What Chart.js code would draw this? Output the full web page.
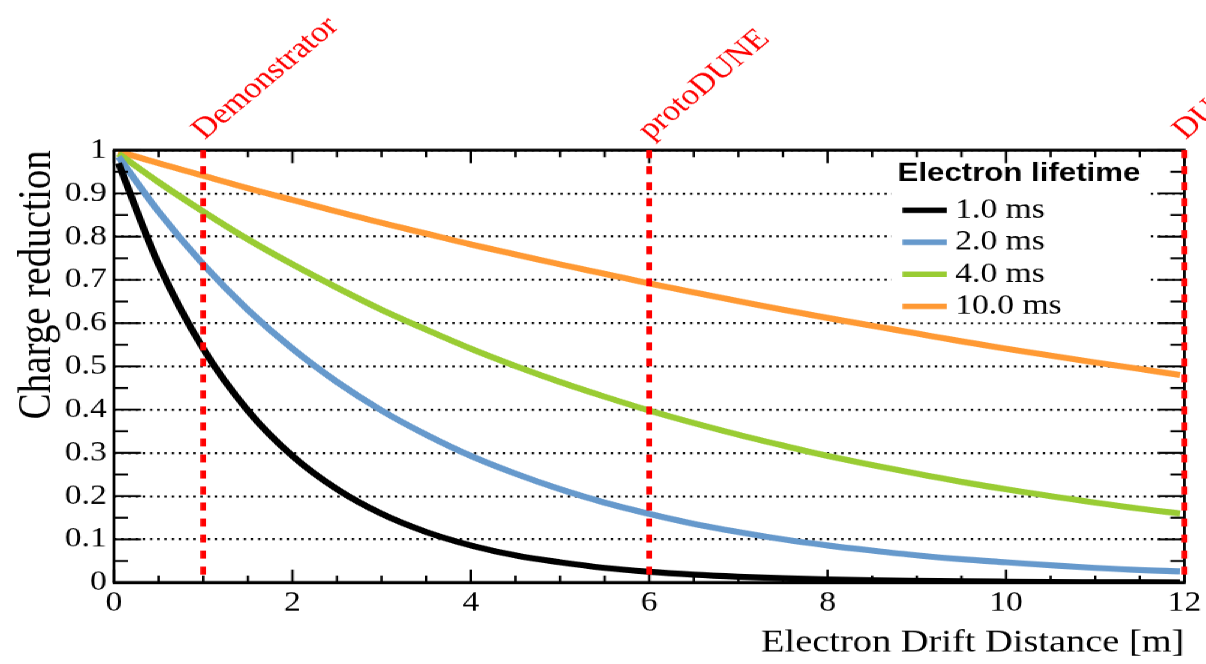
<!DOCTYPE html>
<html>
<head>
<meta charset="utf-8">
<script src="https://cdn.jsdelivr.net/npm/chart.js@4/dist/chart.umd.min.js"></script>
<style>
  html, body { margin: 0; padding: 0; background: #fff; overflow: hidden; }
  /* the figure is laid out 1005px wide and widened 1.2x horizontally */
  #wrap { position: absolute; left: 0; top: 0; width: 1005px; height: 664px;
          transform: scaleX(1.2); transform-origin: 0 0; background: #fff; }
</style>
</head>
<body>
<div id="wrap"><canvas id="c"></canvas></div>
<script>
// Electron drift distance [m] at which the charge fraction is sampled
const driftDistance = [0.05, 0.5, 1, 1.5, 2, 2.5, 3, 3.5, 4, 4.5, 5, 5.5, 6,
                       6.5, 7, 7.5, 8, 8.5, 9, 9.5, 10, 10.5, 11, 11.5, 11.95];

// Fraction of charge surviving the drift, one list per electron lifetime
const lifetime1ms  = [0.970, 0.736, 0.541, 0.398, 0.293, 0.216, 0.159, 0.117, 0.086, 0.063,
                      0.047, 0.034, 0.025, 0.0185, 0.0137, 0.0100, 0.0074, 0.0054, 0.0040,
                      0.0029, 0.0022, 0.0016, 0.0012, 0.0009, 0.0007];
const lifetime2ms  = [0.985, 0.858, 0.736, 0.631, 0.541, 0.464, 0.398, 0.342, 0.293, 0.252,
                      0.216, 0.185, 0.159, 0.136, 0.117, 0.100, 0.086, 0.074, 0.063, 0.054,
                      0.047, 0.040, 0.034, 0.029, 0.026];
const lifetime4ms  = [0.992, 0.926, 0.858, 0.794, 0.736, 0.682, 0.631, 0.585, 0.541, 0.501,
                      0.464, 0.430, 0.398, 0.369, 0.342, 0.317, 0.293, 0.272, 0.252, 0.233,
                      0.216, 0.200, 0.185, 0.171, 0.160];
const lifetime10ms = [0.997, 0.970, 0.941, 0.912, 0.885, 0.858, 0.832, 0.807, 0.782, 0.759,
                      0.736, 0.714, 0.692, 0.671, 0.651, 0.631, 0.612, 0.594, 0.576, 0.558,
                      0.541, 0.525, 0.509, 0.494, 0.480];

const seriesLabels = ['1.0 ms', '2.0 ms', '4.0 ms', '10.0 ms'];
const seriesColors = ['#000000', '#6699cc', '#99cc33', '#ff9933'];
const seriesValues = [lifetime1ms, lifetime2ms, lifetime4ms, lifetime10ms];

// Detector maximum drift lengths [m]
const detectorNames = ['Demonstrator', 'protoDUNE', 'DUNE'];
const detectorDrift = [1, 6, 12];

const xTickLabels = ['0', '2', '4', '6', '8', '10', '12'];
const yTickLabels = ['0', '0.1', '0.2', '0.3', '0.4', '0.5', '0.6', '0.7', '0.8', '0.9', '1'];

const legendTitle = 'Electron lifetime';
const serif = '"Liberation Serif", "Times New Roman", serif';
const sans = '"Liberation Sans", Arial, sans-serif';

const datasets = seriesValues.map((vals, i) => ({
  label: seriesLabels[i],
  data: driftDistance.map((d, k) => ({ x: d, y: vals[k] })),
  borderColor: seriesColors[i],
  backgroundColor: seriesColors[i],
  borderWidth: 6,
  pointRadius: 0,
  cubicInterpolationMode: 'monotone',
  fill: false
}));

function seg(ctx, x1, y1, x2, y2) {
  ctx.beginPath(); ctx.moveTo(x1, y1); ctx.lineTo(x2, y2); ctx.stroke();
}

// Legend box, frame with inward ticks, detector markers and legend entries
const decorations = {
  id: 'decorations',
  beforeDatasetsDraw(chart) {
    const { ctx, chartArea } = chart;
    ctx.save();
    ctx.fillStyle = '#ffffff';
    ctx.fillRect(743, chartArea.top + 1.5, 213, 322 - chartArea.top - 1.5);
    ctx.restore();
  },
  afterDatasetsDraw(chart) {
    const { ctx, chartArea: { left, right, top, bottom }, scales: { x, y } } = chart;
    ctx.save();
    ctx.strokeStyle = '#000';
    ctx.lineWidth = 2;
    ctx.setLineDash([]);
    // x ticks: major every 2 m, minor every 0.5 m (bottom and top)
    for (let i = 0; i <= 24; i++) {
      const v = i * 0.5;
      const px = x.getPixelForValue(v);
      const len = (i % 4 === 0) ? 13 : 7;
      seg(ctx, px, bottom, px, bottom - len);
      seg(ctx, px, top, px, top + len);
    }
    // y ticks: major every 0.1, minor every 0.05 (left and right)
    for (let i = 0; i <= 20; i++) {
      const py = y.getPixelForValue(i * 0.05);
      const len = (i % 2 === 0) ? 22.5 : 11.7;
      seg(ctx, left, py, left + len, py);
      seg(ctx, right, py, right - len, py);
    }
    // frame
    ctx.lineWidth = 3;
    seg(ctx, left - 1, top, right + 1, top);
    seg(ctx, left - 1, bottom, right + 1, bottom);
    ctx.lineWidth = 2.3;
    seg(ctx, left, top, left, bottom);
    seg(ctx, right, top, right, bottom);

    // detector drift lengths
    ctx.strokeStyle = '#ff0000';
    ctx.fillStyle = '#ff0000';
    ctx.lineWidth = 4.8;
    ctx.setLineDash([8, 8]);
    ctx.font = '29px ' + serif;
    ctx.textBaseline = 'alphabetic';
    ctx.textAlign = 'left';
    detectorDrift.forEach((d, i) => {
      const px = x.getPixelForValue(d);
      seg(ctx, px, top, px, bottom);
      ctx.save();
      ctx.translate(px + 1, top - 10);
      ctx.rotate(-Math.PI / 4);
      ctx.fillText(detectorNames[i], 0, 0);
      ctx.restore();
    });
    ctx.setLineDash([]);

    // legend entries
    ctx.fillStyle = '#000';
    ctx.font = 'bold 26px ' + sans;
    ctx.textBaseline = 'middle';
    ctx.fillText(legendTitle, 748, 174);
    ctx.font = '28px ' + serif;
    const rows = [210, 242, 274, 306];
    chart.data.datasets.forEach((ds, i) => {
      ctx.strokeStyle = ds.borderColor;
      ctx.lineWidth = 5.5;
      seg(ctx, 752, rows[i], 789, rows[i]);
      ctx.fillStyle = '#000';
      ctx.fillText(ds.label, 796, rows[i]);
    });
    ctx.restore();
  }
};

new Chart(document.getElementById('c'), {
  type: 'line',
  data: { datasets },
  options: {
    responsive: true,
    maintainAspectRatio: false,
    devicePixelRatio: 1.2,
    animation: false,
    layout: { padding: { left: 0, right: 15, top: 150, bottom: 0 } },
    plugins: { legend: { display: false }, tooltip: { enabled: false } },
    scales: {
      x: {
        type: 'linear', min: 0, max: 12,
        afterFit: s => { s.height = 82; },
        grid: { display: false, drawTicks: false },
        border: { display: false },
        ticks: {
          stepSize: 2, padding: 4, color: '#000', maxRotation: 0,
          font: { family: serif, size: 28 },
          callback: (v, i) => xTickLabels[i]
        },
        title: {
          display: true, text: 'Electron Drift Distance [m]', align: 'end', color: '#000',
          font: { family: serif, size: 32 }, padding: { top: 0, bottom: 2 }
        }
      },
      y: {
        type: 'linear', min: 0, max: 1,
        afterFit: s => { s.width = 95; },
        grid: { color: '#000', lineWidth: 2, drawTicks: false },
        border: { display: false, dash: [2, 4] },
        ticks: {
          stepSize: 0.1, padding: 6, color: '#000',
          font: { family: serif, size: 28 },
          callback: (v, i) => yTickLabels[i]
        },
        title: {
          display: true, text: 'Charge reduction', align: 'end', color: '#000',
          font: { family: serif, size: 39 }, padding: { top: 8, bottom: 0 }
        }
      }
    }
  },
  plugins: [decorations]
});
</script>
</body>
</html>
